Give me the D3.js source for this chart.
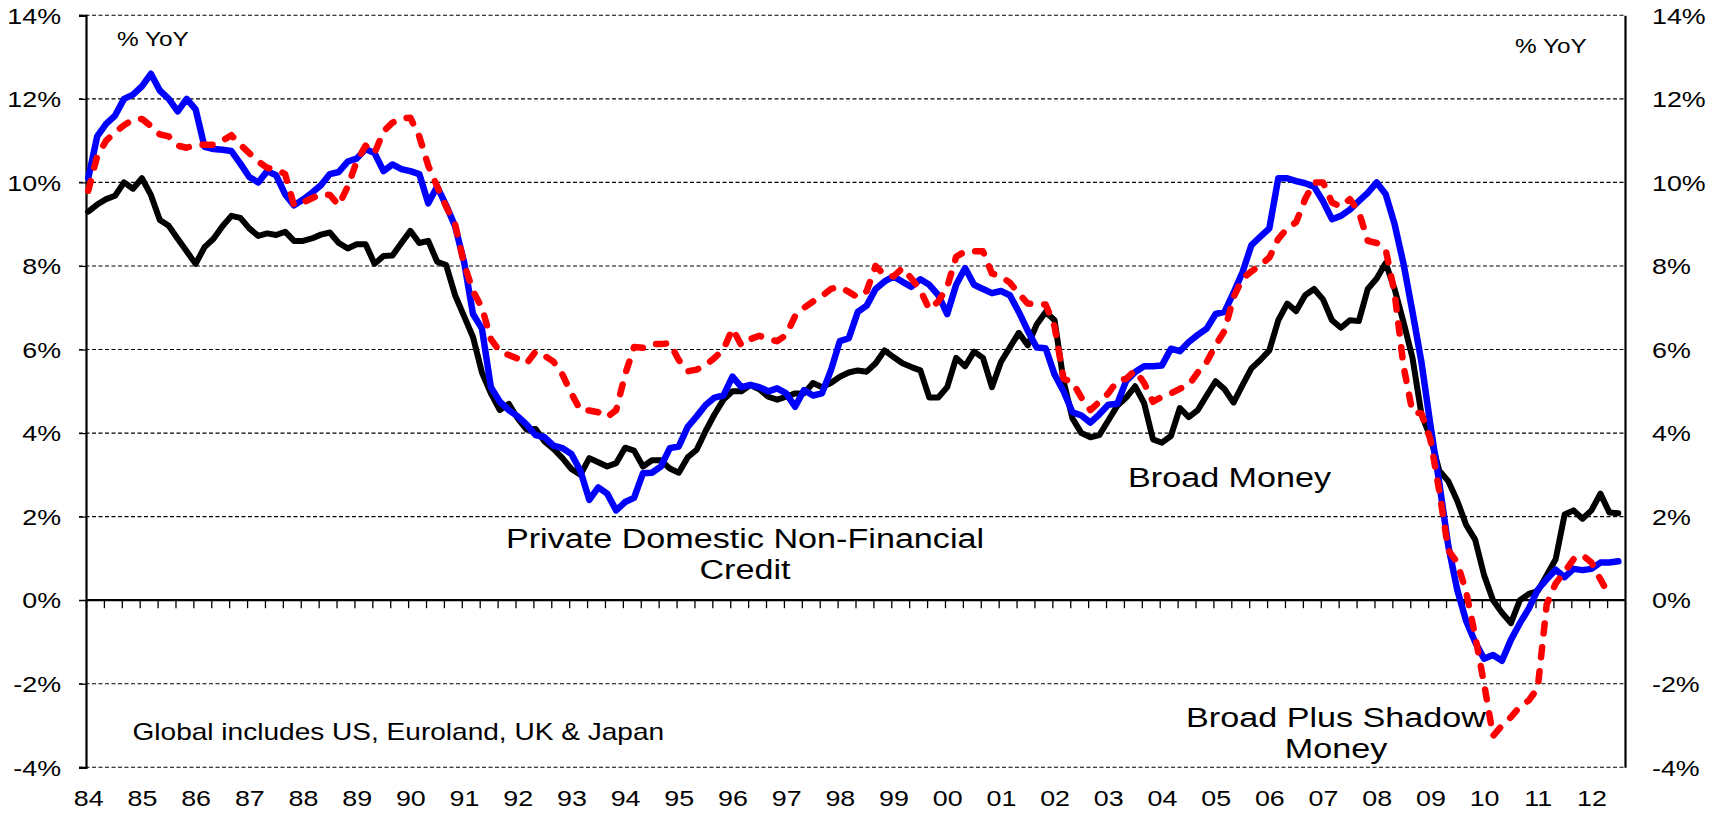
<!DOCTYPE html>
<html><head><meta charset="utf-8">
<script src="https://cdn.jsdelivr.net/npm/d3@7"></script>
<style>html,body{margin:0;padding:0;background:#fff;}svg{display:block;font-family:"Liberation Sans",Arial,sans-serif;}</style>
</head><body>
<svg id="chart" width="1717" height="815"></svg>
<script>
// ---- data (bi-monthly readings, Jan 1984 .. Jul 2012) ----
const startYear = 1984;
const stepMonths = 2;
const yearLabels = ["84","85","86","87","88","89","90","91","92","93","94","95","96","97","98","99","00","01","02","03","04","05","06","07","08","09","10","11","12"];
const yTicks = [-4,-2,0,2,4,6,8,10,12,14];

const broadMoney = [
9.3,9.47,9.6,9.68,10.0,9.85,
10.1,9.7,9.1,8.96,8.65,8.35,
8.05,8.45,8.65,8.95,9.2,9.15,
8.9,8.72,8.78,8.74,8.82,8.6,
8.6,8.66,8.75,8.8,8.55,8.42,
8.52,8.52,8.05,8.24,8.25,8.55,
8.84,8.55,8.6,8.1,8.02,7.3,
6.8,6.3,5.45,4.95,4.55,4.7,
4.35,4.08,4.1,3.8,3.62,3.4,
3.14,3.0,3.4,3.3,3.2,3.28,
3.65,3.58,3.2,3.35,3.35,3.15,
3.05,3.42,3.6,4.05,4.45,4.8,
5.0,5.0,5.15,5.05,4.87,4.8,
4.87,4.95,4.95,5.2,5.1,5.2,
5.35,5.45,5.5,5.47,5.67,5.98,
5.82,5.67,5.58,5.5,4.85,4.85,
5.1,5.8,5.6,5.95,5.8,5.1,
5.7,6.05,6.4,6.1,6.6,6.9,
6.7,5.25,4.35,4.0,3.9,3.95,
4.3,4.65,4.85,5.12,4.72,3.85,
3.77,3.93,4.6,4.38,4.55,4.9,
5.24,5.05,4.73,5.15,5.55,5.75,
5.98,6.7,7.1,6.92,7.3,7.45,
7.2,6.7,6.52,6.7,6.68,7.45,
7.7,8.07,7.45,6.65,5.8,4.45,
3.9,3.1,2.85,2.38,1.8,1.45,
0.6,0.0,-0.3,-0.55,0.0,0.15,
0.22,0.6,0.98,2.05,2.15,1.95,
2.15,2.55,2.1,2.08];

const credit = [
10.1,11.1,11.4,11.6,12.0,12.1,
12.3,12.6,12.2,12.0,11.7,12.0,
11.75,10.85,10.8,10.78,10.75,10.45,
10.13,10.0,10.27,10.17,9.72,9.45,
9.59,9.75,9.93,10.2,10.25,10.5,
10.57,10.8,10.7,10.27,10.43,10.32,
10.27,10.2,9.5,9.9,9.45,8.95,
8.1,6.85,6.5,5.1,4.75,4.55,
4.4,4.2,3.95,3.9,3.7,3.64,
3.5,3.1,2.4,2.7,2.55,2.15,
2.35,2.45,3.04,3.05,3.2,3.64,
3.68,4.15,4.4,4.67,4.85,4.9,
5.35,5.1,5.15,5.1,5.0,5.07,
4.95,4.63,5.03,4.9,4.95,5.5,
6.2,6.27,6.9,7.05,7.45,7.63,
7.75,7.62,7.5,7.68,7.55,7.3,
6.85,7.55,7.95,7.55,7.45,7.35,
7.4,7.3,6.9,6.45,6.05,6.03,
5.4,5.0,4.5,4.42,4.25,4.45,
4.68,4.7,5.25,5.46,5.6,5.6,
5.62,6.02,5.96,6.18,6.35,6.5,
6.85,6.9,7.36,7.85,8.5,8.7,
8.9,10.1,10.1,10.03,9.98,9.9,
9.55,9.12,9.2,9.35,9.55,9.75,
10.0,9.72,9.0,8.05,6.9,5.7,
4.2,2.8,1.3,0.25,-0.5,-1.0,
-1.4,-1.31,-1.45,-0.95,-0.55,-0.2,
0.25,0.5,0.73,0.55,0.75,0.72,
0.75,0.9,0.9,0.93];

const broadPlusShadow = [
9.8,10.63,11.0,11.2,11.37,11.5,
11.52,11.35,11.15,11.1,10.88,10.83,
10.9,10.9,10.9,11.0,11.13,10.9,
10.7,10.5,10.35,10.31,10.2,9.45,
9.52,9.62,9.72,9.7,9.45,9.9,
10.5,10.88,10.7,11.22,11.43,11.53,
11.55,11.1,10.4,9.9,9.42,9.0,
8.05,7.4,7.0,6.25,5.95,5.87,
5.78,5.67,5.95,5.85,5.71,5.4,
4.95,4.55,4.54,4.5,4.38,4.55,
5.4,6.06,6.04,6.13,6.13,6.15,
5.75,5.48,5.52,5.63,5.8,6.0,
6.5,6.1,6.25,6.33,6.25,6.2,
6.35,6.8,7.0,7.15,7.28,7.45,
7.5,7.38,7.25,7.4,8.0,7.78,
7.75,7.95,7.7,7.42,6.96,7.15,
7.5,8.22,8.35,8.35,8.35,7.82,
7.75,7.6,7.34,7.1,7.08,7.08,
6.55,5.3,5.22,4.85,4.55,4.75,
4.95,5.25,5.3,5.5,5.2,4.75,
4.87,4.95,5.06,5.15,5.45,5.7,
6.1,6.45,7.25,7.7,7.87,8.02,
8.2,8.65,8.9,9.05,9.6,10.0,
10.0,9.52,9.42,9.6,9.3,8.6,
8.55,8.4,7.35,5.6,4.5,4.47,
3.85,2.6,1.2,0.9,0.2,-0.85,
-2.0,-3.25,-3.0,-2.8,-2.55,-2.4,
-2.1,-0.1,0.4,0.68,0.98,1.08,
0.9,0.5,0.12];

// ---- layout ----
const SX = 1.22; // horizontal stretch of the reference's text
const totalMonths = 344;
const svg = d3.select("#chart");
const x = d3.scaleLinear().domain([0, totalMonths]).range([86, 1625]);
const y = d3.scaleLinear().domain([-4, 14]).range([767.3, 15.3]);

function sText(g, px, py, str, size, anchor) {
  return g.append("text")
    .attr("transform", `translate(${px},${py}) scale(${SX},1)`)
    .attr("text-anchor", anchor || "start")
    .attr("font-size", size)
    .attr("fill", "#000")
    .text(str);
}

// gridlines
svg.append("g").selectAll("line").data(yTicks).join("line")
  .attr("x1", 79).attr("x2", 1625)
  .attr("y1", d => y(d)).attr("y2", d => y(d))
  .attr("stroke", "#000").attr("stroke-width", 1.1)
  .attr("stroke-dasharray", d => d === 0 ? null : "4,2.5");

// left axis
const left = svg.append("g").attr("transform", "translate(86,0)")
  .call(d3.axisLeft(y).tickValues(yTicks).tickSize(7).tickFormat(d => d + "%"));
left.select(".domain").attr("stroke-width", 2.2);
left.selectAll(".tick line").attr("stroke-width", 1.2);
left.selectAll(".tick text").attr("x", null).attr("dy", "0.35em")
  .attr("transform", `translate(-25,0) scale(${SX},1)`)
  .attr("font-size", 22).attr("font-family", null).attr("fill", "#000");

// right axis
const right = svg.append("g").attr("transform", "translate(1625,0)")
  .call(d3.axisRight(y).tickValues(yTicks).tickSize(0).tickFormat(d => d + "%"));
right.select(".domain").attr("stroke-width", 2.2);
right.selectAll(".tick text").attr("x", null).attr("dy", "0.35em")
  .attr("transform", `translate(27,0) scale(${SX},1)`)
  .attr("font-size", 22).attr("font-family", null).attr("fill", "#000");

// zero line with month ticks
const zeroTicks = d3.range(0, totalMonths, 4);
const zero = svg.append("g").attr("transform", `translate(0,${y(0)})`)
  .call(d3.axisBottom(x).tickValues(zeroTicks).tickSize(8).tickFormat(""));
zero.select(".domain").attr("stroke-width", 2.2).attr("d", `M${x(0)},0H${x(totalMonths)}`);
zero.selectAll(".tick line").attr("stroke-width", 1.3);

// year labels
const yearTickVals = yearLabels.map((d, i) => i * 12 + 0.5);
const xl = svg.append("g").attr("transform", "translate(0,767.3)")
  .call(d3.axisBottom(x).tickValues(yearTickVals).tickSize(0).tickFormat((d, i) => yearLabels[i]));
xl.select(".domain").remove();
xl.selectAll(".tick text").attr("y", null).attr("dy", null)
  .attr("transform", `translate(0,38.5) scale(${SX},1)`)
  .attr("font-size", 22).attr("font-family", null).attr("fill", "#000");

// lines
const line = d3.line()
  .x((d, i) => x(i * stepMonths + 0.5))
  .y(d => y(d))
  .defined(d => d !== null && d !== undefined);

svg.append("path").datum(broadMoney).attr("d", line)
  .attr("fill", "none").attr("stroke", "#000").attr("stroke-width", 6)
  .attr("stroke-linejoin", "round").attr("stroke-linecap", "round");
svg.append("path").datum(credit).attr("d", line)
  .attr("fill", "none").attr("stroke", "#0000ff").attr("stroke-width", 6.5)
  .attr("stroke-linejoin", "round").attr("stroke-linecap", "round");
svg.append("path").datum(broadPlusShadow).attr("d", line)
  .attr("fill", "none").attr("stroke", "#ff0000").attr("stroke-width", 6.5)
  .attr("stroke-dasharray", "10,14")
  .attr("stroke-linejoin", "round").attr("stroke-linecap", "round");

// text annotations
sText(svg, 117, 46, "% YoY", 20, "start");
sText(svg, 1515, 53, "% YoY", 20, "start");
sText(svg, 132.5, 740, "Global includes US, Euroland, UK & Japan", 23, "start");
sText(svg, 745, 548, "Private Domestic Non-Financial", 28, "middle");
sText(svg, 745, 579, "Credit", 28, "middle");
sText(svg, 1128, 487, "Broad Money", 28, "start");
sText(svg, 1336, 727, "Broad Plus Shadow", 28, "middle");
sText(svg, 1336, 758, "Money", 28, "middle");
</script>
</body></html>
